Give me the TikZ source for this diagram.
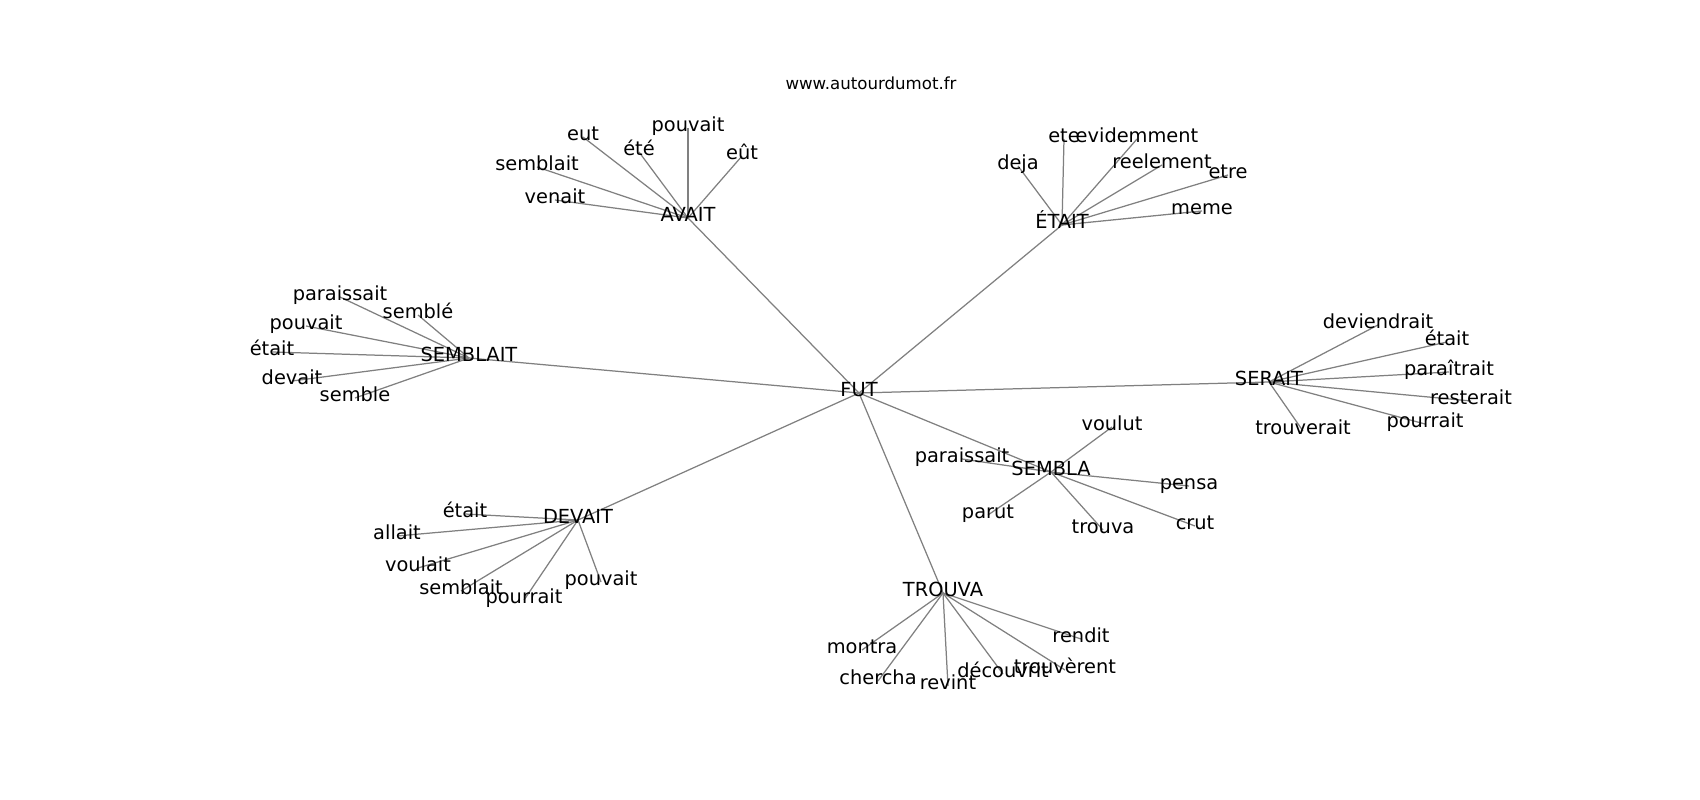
\documentclass[tikz,border=0pt]{standalone}
\usepackage{fontspec}
\setmainfont{DejaVu Sans}
\usepackage{tikz}
\usetikzlibrary{calc, backgrounds}
\tikzset{
	word/.style={inner sep=0pt, text height=0.76em, text depth=0.236em, font=\fontsize{14}{16}\selectfont},
	link/.style={draw=black!50, line width=0.9pt},
}
\newcommand{\Leaf}[4]{
	\node[word] (#2) at (#3) {#4};
	\begin{pgfonlayer}{background}
		\draw[link] (#1.center) -- (#2.center);
	\end{pgfonlayer}
}

\begin{document}
\begin{tikzpicture}[x=0.01in, y=-0.01in]
	\useasboundingbox (0,-3) rectangle (1700,797);

	\node[font=\fontsize{12}{14}\selectfont, anchor=base] (title) at (871,87) {www.autourdumot.fr};

	% centre
	\node[word] (FUT) at (859,390) {FUT};
	\Leaf{FUT}{AVAIT}{688,215}{AVAIT}
	\Leaf{FUT}{ETAIT}{1062,222}{ÉTAIT}
	\Leaf{FUT}{SEMBLAIT}{469,355}{SEMBLAIT}
	\Leaf{FUT}{SERAIT}{1269,379}{SERAIT}
	\Leaf{FUT}{SEMBLA}{1051,469}{SEMBLA}
	\Leaf{FUT}{DEVAIT}{578,517}{DEVAIT}
	\Leaf{FUT}{TROUVA}{943,590}{TROUVA}

	% AVAIT
	\Leaf{AVAIT}{av-eut}{583,134}{eut}
	\Leaf{AVAIT}{av-ete}{639,149}{été}
	\Leaf{AVAIT}{av-pouvait}{688,125}{pouvait}
	\Leaf{AVAIT}{av-eeut}{742,153}{eût}
	\Leaf{AVAIT}{av-semblait}{537,164}{semblait}
	\Leaf{AVAIT}{av-venait}{555,197}{venait}

	% ETAIT
	\Leaf{ETAIT}{et-deja}{1018,163}{deja}
	\Leaf{ETAIT}{et-ete}{1064,136}{ete}
	\Leaf{ETAIT}{et-evidemment}{1137,136}{evidemment}
	\Leaf{ETAIT}{et-reelement}{1162,162}{reelement}
	\Leaf{ETAIT}{et-etre}{1228,172}{etre}
	\Leaf{ETAIT}{et-meme}{1202,208}{meme}

	% SEMBLAIT
	\Leaf{SEMBLAIT}{sb-paraissait}{340,294}{paraissait}
	\Leaf{SEMBLAIT}{sb-semble}{418,312}{semblé}
	\Leaf{SEMBLAIT}{sb-pouvait}{306,323}{pouvait}
	\Leaf{SEMBLAIT}{sb-etait}{272,349}{était}
	\Leaf{SEMBLAIT}{sb-devait}{292,378}{devait}
	\Leaf{SEMBLAIT}{sb-semble2}{355,395}{semble}

	% SERAIT
	\Leaf{SERAIT}{se-deviendrait}{1378,322}{deviendrait}
	\Leaf{SERAIT}{se-etait}{1447,339}{était}
	\Leaf{SERAIT}{se-paraitrait}{1449,369}{paraîtrait}
	\Leaf{SERAIT}{se-resterait}{1471,398}{resterait}
	\Leaf{SERAIT}{se-pourrait}{1425,421}{pourrait}
	\Leaf{SERAIT}{se-trouverait}{1303,428}{trouverait}

	% SEMBLA
	\Leaf{SEMBLA}{sa-voulut}{1112,424}{voulut}
	\Leaf{SEMBLA}{sa-paraissait}{962,456}{paraissait}
	\Leaf{SEMBLA}{sa-pensa}{1189,483}{pensa}
	\Leaf{SEMBLA}{sa-parut}{988,512}{parut}
	\Leaf{SEMBLA}{sa-trouva}{1103,527}{trouva}
	\Leaf{SEMBLA}{sa-crut}{1195,523}{crut}

	% DEVAIT
	\Leaf{DEVAIT}{de-etait}{465,511}{était}
	\Leaf{DEVAIT}{de-allait}{397,533}{allait}
	\Leaf{DEVAIT}{de-voulait}{418,565}{voulait}
	\Leaf{DEVAIT}{de-semblait}{461,588}{semblait}
	\Leaf{DEVAIT}{de-pourrait}{524,597}{pourrait}
	\Leaf{DEVAIT}{de-pouvait}{601,579}{pouvait}

	% TROUVA
	\Leaf{TROUVA}{tr-montra}{862,647}{montra}
	\Leaf{TROUVA}{tr-chercha}{878,678}{chercha}
	\Leaf{TROUVA}{tr-revint}{948,683}{revint}
	\Leaf{TROUVA}{tr-decouvrit}{1003,671}{découvrit}
	\Leaf{TROUVA}{tr-trouverent}{1065,667}{trouvèrent}
	\Leaf{TROUVA}{tr-rendit}{1081,636}{rendit}

\end{tikzpicture}
\end{document}
